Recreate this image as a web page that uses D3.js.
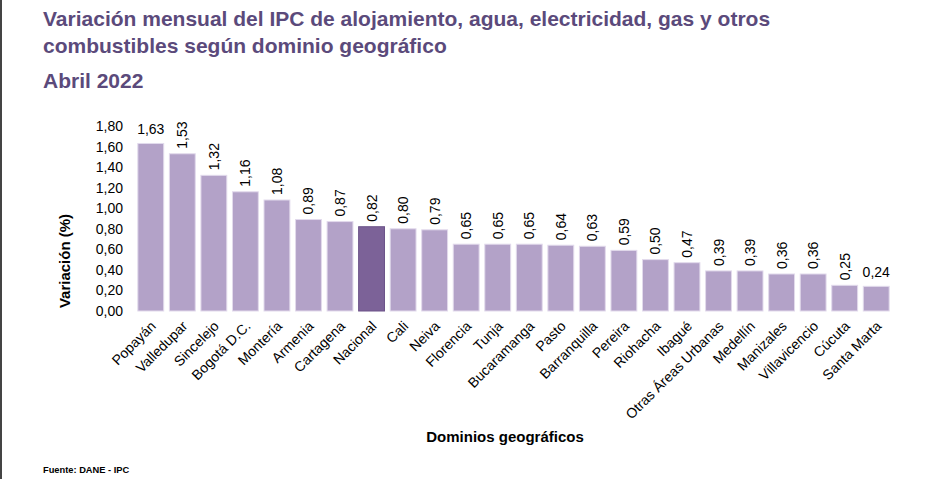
<!DOCTYPE html>
<html>
<head>
<meta charset="utf-8">
<script src="https://cdn.jsdelivr.net/npm/d3@7/dist/d3.min.js"></script>
<style>
  body { margin: 0; background: #fff; }
  svg { display: block; font-family: "Liberation Sans", Arial, sans-serif; }
</style>
</head>
<body>
<div id="chart"></div>
<script>
// data
const dominios = ["Popayán", "Valledupar", "Sincelejo", "Bogotá D.C.", "Montería", "Armenia",
  "Cartagena", "Nacional", "Cali", "Neiva", "Florencia", "Tunja", "Bucaramanga", "Pasto",
  "Barranquilla", "Pereira", "Riohacha", "Ibagué", "Otras Áreas Urbanas", "Medellín",
  "Manizales", "Villavicencio", "Cúcuta", "Santa Marta"];
const variacion = [1.63, 1.53, 1.32, 1.16, 1.08, 0.89, 0.87, 0.82, 0.80, 0.79, 0.65, 0.65,
  0.65, 0.64, 0.63, 0.59, 0.50, 0.47, 0.39, 0.39, 0.36, 0.36, 0.25, 0.24];
const yTicks = [0, 0.2, 0.4, 0.6, 0.8, 1.0, 1.2, 1.4, 1.6, 1.8];
const destacado = "Nacional";

const W = 938, H = 479;
const margin = { left: 135, right: 938 - 892, top: 126, bottom: 479 - 311 };

const fmt = v => d3.format(".2f")(v).replace(".", ",");

const svg = d3.select("#chart").append("svg")
  .attr("width", W).attr("height", H);

// left page edge
svg.append("rect").attr("x", 0).attr("y", 0).attr("width", 2).attr("height", H).attr("fill", "#444");

// titles
const titleColor = "#5b4a7b";
function addTitle(txt, yPos) {
  svg.append("text").attr("x", 43).attr("y", yPos).attr("font-size", 21).attr("font-weight", "bold")
    .attr("fill", titleColor).text(txt);
}
addTitle("Variación mensual del IPC de alojamiento, agua, electricidad, gas y otros", 26);
addTitle("combustibles según dominio geográfico", 53);
addTitle("Abril 2022", 88);

const x = d3.scaleBand()
  .domain(dominios)
  .range([margin.left, W - margin.right])
  .paddingInner(0.18)
  .paddingOuter(0.09);

const y = d3.scaleLinear()
  .domain([0, 1.8])
  .range([H - margin.bottom, margin.top]);

// y axis labels (no line, no ticks)
const yAxis = svg.append("g")
  .attr("transform", `translate(${margin.left - 12},0)`)
  .call(d3.axisLeft(y).tickValues(yTicks).tickFormat(fmt).tickSize(0).tickPadding(0));
yAxis.select(".domain").remove();
yAxis.selectAll("text").attr("font-size", 14).attr("fill", "#000")
  .attr("font-family", "Liberation Sans, Arial, sans-serif");

// bars
const data = dominios.map((d, i) => ({ dominio: d, valor: variacion[i] }));

const barsG = svg.append("g").attr("class", "bars");
barsG.selectAll("rect")
  .data(data)
  .join("rect")
  .attr("x", d => x(d.dominio))
  .attr("y", d => y(d.valor))
  .attr("width", x.bandwidth())
  .attr("height", d => y(0) - y(d.valor))
  .attr("fill", d => d.dominio === destacado ? "#7c6298" : "#b3a2c8")
  .attr("stroke", d => d.dominio === destacado ? "#6c5389" : "#e2daec")
  .attr("stroke-width", 1);

// value labels: first and last horizontal, the rest vertical
const labels = svg.append("g").attr("font-size", 14).attr("fill", "#000");
data.forEach((d, i) => {
  const cx = x(d.dominio) + x.bandwidth() / 2;
  const top = y(d.valor);
  if (i === 0 || i === data.length - 1) {
    labels.append("text")
      .attr("x", cx).attr("y", top - 9)
      .attr("text-anchor", "middle")
      .text(fmt(d.valor));
  } else {
    labels.append("text")
      .attr("transform", `translate(${cx + 5},${top - 5}) rotate(-90)`)
      .attr("text-anchor", "start")
      .text(fmt(d.valor));
  }
});

// x axis category labels, rotated 45°
const xAxis = svg.append("g")
  .attr("transform", `translate(0,${y(0)})`)
  .call(d3.axisBottom(x).tickSize(0).tickPadding(0));
xAxis.select(".domain").remove();
xAxis.selectAll("text")
  .attr("font-size", 14)
  .attr("fill", "#000")
  .attr("font-family", "Liberation Sans, Arial, sans-serif")
  .attr("text-anchor", "end")
  .attr("dy", null)
  .attr("y", 0)
  .attr("transform", "translate(6,16) rotate(-45)");

// axis titles
svg.append("text")
  .attr("x", 505).attr("y", 442)
  .attr("text-anchor", "middle")
  .attr("font-size", 15).attr("font-weight", "bold")
  .text("Dominios geográficos");

svg.append("text")
  .attr("transform", "translate(70,261) rotate(-90)")
  .attr("text-anchor", "middle")
  .attr("font-size", 15).attr("font-weight", "bold")
  .text("Variación (%)");

svg.append("text")
  .attr("x", 43).attr("y", 473)
  .attr("font-size", 9.3).attr("font-weight", "bold")
  .text("Fuente: DANE - IPC");
</script>
</body>
</html>
